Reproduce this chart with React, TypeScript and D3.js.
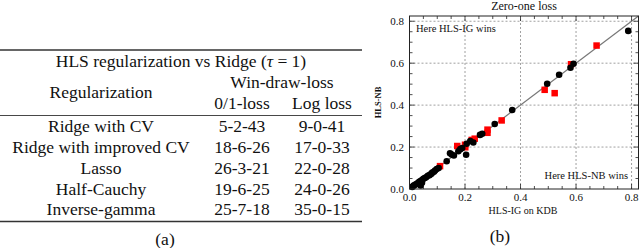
import React from "react";
import * as d3 from "d3";

// table (a)
const methods = ["Ridge with CV", "Ridge with improved CV", "Lasso", "Half-Cauchy", "Inverse-gamma"];
const zeroOneWdl = ["5-2-43", "18-6-26", "26-3-21", "19-6-25", "25-7-18"];
const logLossWdl = ["9-0-41", "17-0-33", "22-0-28", "24-0-26", "35-0-15"];

// scatter (b): [HLS-IG on KDB, HLS-NB]
const blackPts: [number, number][] = [
  [0.788, 0.754], [0.591, 0.597], [0.58, 0.578], [0.539, 0.545], [0.496, 0.502],
  [0.37, 0.377], [0.307, 0.31], [0.262, 0.263], [0.254, 0.258], [0.23, 0.222],
  [0.219, 0.229], [0.206, 0.216], [0.204, 0.163], [0.19, 0.195], [0.183, 0.19],
  [0.176, 0.18], [0.16, 0.16], [0.152, 0.164], [0.146, 0.17], [0.134, 0.132],
  [0.105, 0.1], [0.098, 0.095], [0.092, 0.088], [0.088, 0.082], [0.082, 0.078],
  [0.078, 0.072], [0.072, 0.066], [0.066, 0.063], [0.06, 0.056], [0.055, 0.052],
  [0.05, 0.049], [0.045, 0.043], [0.04, 0.038], [0.035, 0.034], [0.03, 0.028],
  [0.025, 0.024], [0.02, 0.02], [0.015, 0.016], [0.01, 0.01], [0.04, 0.017],
  [0.036, 0.024], [0.045, 0.03],
];
const redPts: [number, number][] = [
  [0.674, 0.684], [0.582, 0.595], [0.487, 0.473], [0.523, 0.457], [0.332, 0.327],
  [0.281, 0.283], [0.281, 0.268], [0.235, 0.24], [0.224, 0.234], [0.172, 0.205],
  [0.2, 0.211], [0.201, 0.199], [0.11, 0.109],
];
const majorTicks = [0, 0.2, 0.4, 0.6, 0.8];
const gridTicks = [0.2, 0.4, 0.6, 0.8];

const serif = '"Liberation Serif", serif';

const Table = () => {
  const col1 = 101, col2 = 242, col3 = 322;
  const rowY = [132.2, 153, 173.8, 194.6, 215.4];
  return (
    <g style={{ fontFamily: serif, fontSize: "17.5px" }} fill="#111" textAnchor="middle">
      <line x1={0} x2={362} y1={50} y2={50} stroke="#333" strokeWidth={1.4} />
      <text x={181} y={67}>
        HLS regularization vs Ridge (<tspan fontStyle="italic">τ</tspan> = 1)
      </text>
      <text x={282} y={87.8}>Win-draw-loss</text>
      <text x={col1} y={98.2}>Regularization</text>
      <text x={col2} y={108.6}>0/1-loss</text>
      <text x={col3} y={108.6}>Log loss</text>
      <line x1={0} x2={362} y1={115.5} y2={115.5} stroke="#333" strokeWidth={0.9} />
      {methods.map((m, i) => (
        <g key={m}>
          <text x={col1} y={rowY[i]}>{m}</text>
          <text x={col2} y={rowY[i]}>{zeroOneWdl[i]}</text>
          <text x={col3} y={rowY[i]}>{logLossWdl[i]}</text>
        </g>
      ))}
      <line x1={0} x2={362} y1={221.5} y2={221.5} stroke="#333" strokeWidth={1.4} />
      <text x={165} y={245}>(a)</text>
    </g>
  );
};

const Scatter = () => {
  const x = d3.scaleLinear().domain([0, 0.825]).range([409.5, 638.5]);
  const y = d3.scaleLinear().domain([0, 0.825]).range([189, 16]);
  const [x0, x1] = x.range();
  const [y0, y1] = y.range();
  const minor = d3.range(0.05, 0.825, 0.05);
  const isMajor = (t: number) => Math.abs(t / 0.2 - Math.round(t / 0.2)) < 1e-6;
  const sq = 6.5;
  const txt = (size: number, extra = {}) => ({ fontFamily: serif, fontSize: `${size}px`, ...extra });
  return (
    <g>
      <text x={(x0 + x1) / 2} y={9.5} style={txt(12)} textAnchor="middle" fill="#111">
        Zero-one loss
      </text>
      {gridTicks.map((t) => (
        <g key={t} stroke="#888" strokeWidth={0.8} strokeDasharray="2,2">
          <line x1={x(t)} x2={x(t)} y1={y0} y2={y1} />
          <line x1={x0} x2={x1} y1={y(t)} y2={y(t)} />
        </g>
      ))}
      {minor.map((t) => {
        const len = isMajor(t) ? 5 : 3;
        return (
          <g key={t} stroke="#222" strokeWidth={0.8}>
            <line x1={x(t)} x2={x(t)} y1={y0} y2={y0 - len} />
            <line x1={x(t)} x2={x(t)} y1={y1} y2={y1 + len} />
            <line x1={x0} x2={x0 + len} y1={y(t)} y2={y(t)} />
            <line x1={x1} x2={x1 - len} y1={y(t)} y2={y(t)} />
          </g>
        );
      })}
      <line x1={x(0)} y1={y(0)} x2={x(0.825)} y2={y(0.825)} stroke="#777" strokeWidth={1.2} />
      {redPts.map(([a, b], i) => (
        <rect key={"r" + i} x={x(a) - sq / 2} y={y(b) - sq / 2} width={sq} height={sq} fill="#f00" />
      ))}
      {blackPts.map(([a, b], i) => (
        <circle key={"b" + i} cx={x(a)} cy={y(b)} r={3.3} fill="#000" />
      ))}
      <rect x={x0} y={y1} width={x1 - x0} height={y0 - y1} fill="none" stroke="#222" strokeWidth={1} />
      <g style={txt(11)} fill="#111">
        {majorTicks.map((t) => (
          <text key={"y" + t} x={404} y={y(t) + 3.8} textAnchor="end">
            {t.toFixed(1)}
          </text>
        ))}
        {majorTicks.map((t) => (
          <text key={"x" + t} x={x(t)} y={200.5} textAnchor="middle">
            {t.toFixed(1)}
          </text>
        ))}
      </g>
      <text
        transform={`translate(381,${(y0 + y1) / 2}) rotate(-90)`}
        style={txt(8.5, { fontWeight: "bold" })}
        textAnchor="middle"
        fill="#111"
      >
        HLS-NB
      </text>
      <text x={523} y={213.5} style={txt(10)} textAnchor="middle" fill="#111">
        HLS-IG on KDB
      </text>
      <text x={416} y={32} style={txt(10.5)} fill="#111">
        Here HLS-IG wins
      </text>
      <text x={628} y={179} style={txt(10.5)} textAnchor="end" fill="#111">
        Here HLS-NB wins
      </text>
      <text x={500} y={242} style={txt(17.5)} textAnchor="middle" fill="#111">
        (b)
      </text>
    </g>
  );
};

export default function App() {
  return (
    <svg
      width={640}
      height={248}
      style={{ position: "absolute", left: 0, top: 0, background: "#fff" }}
    >
      <Table />
      <Scatter />
    </svg>
  );
}
